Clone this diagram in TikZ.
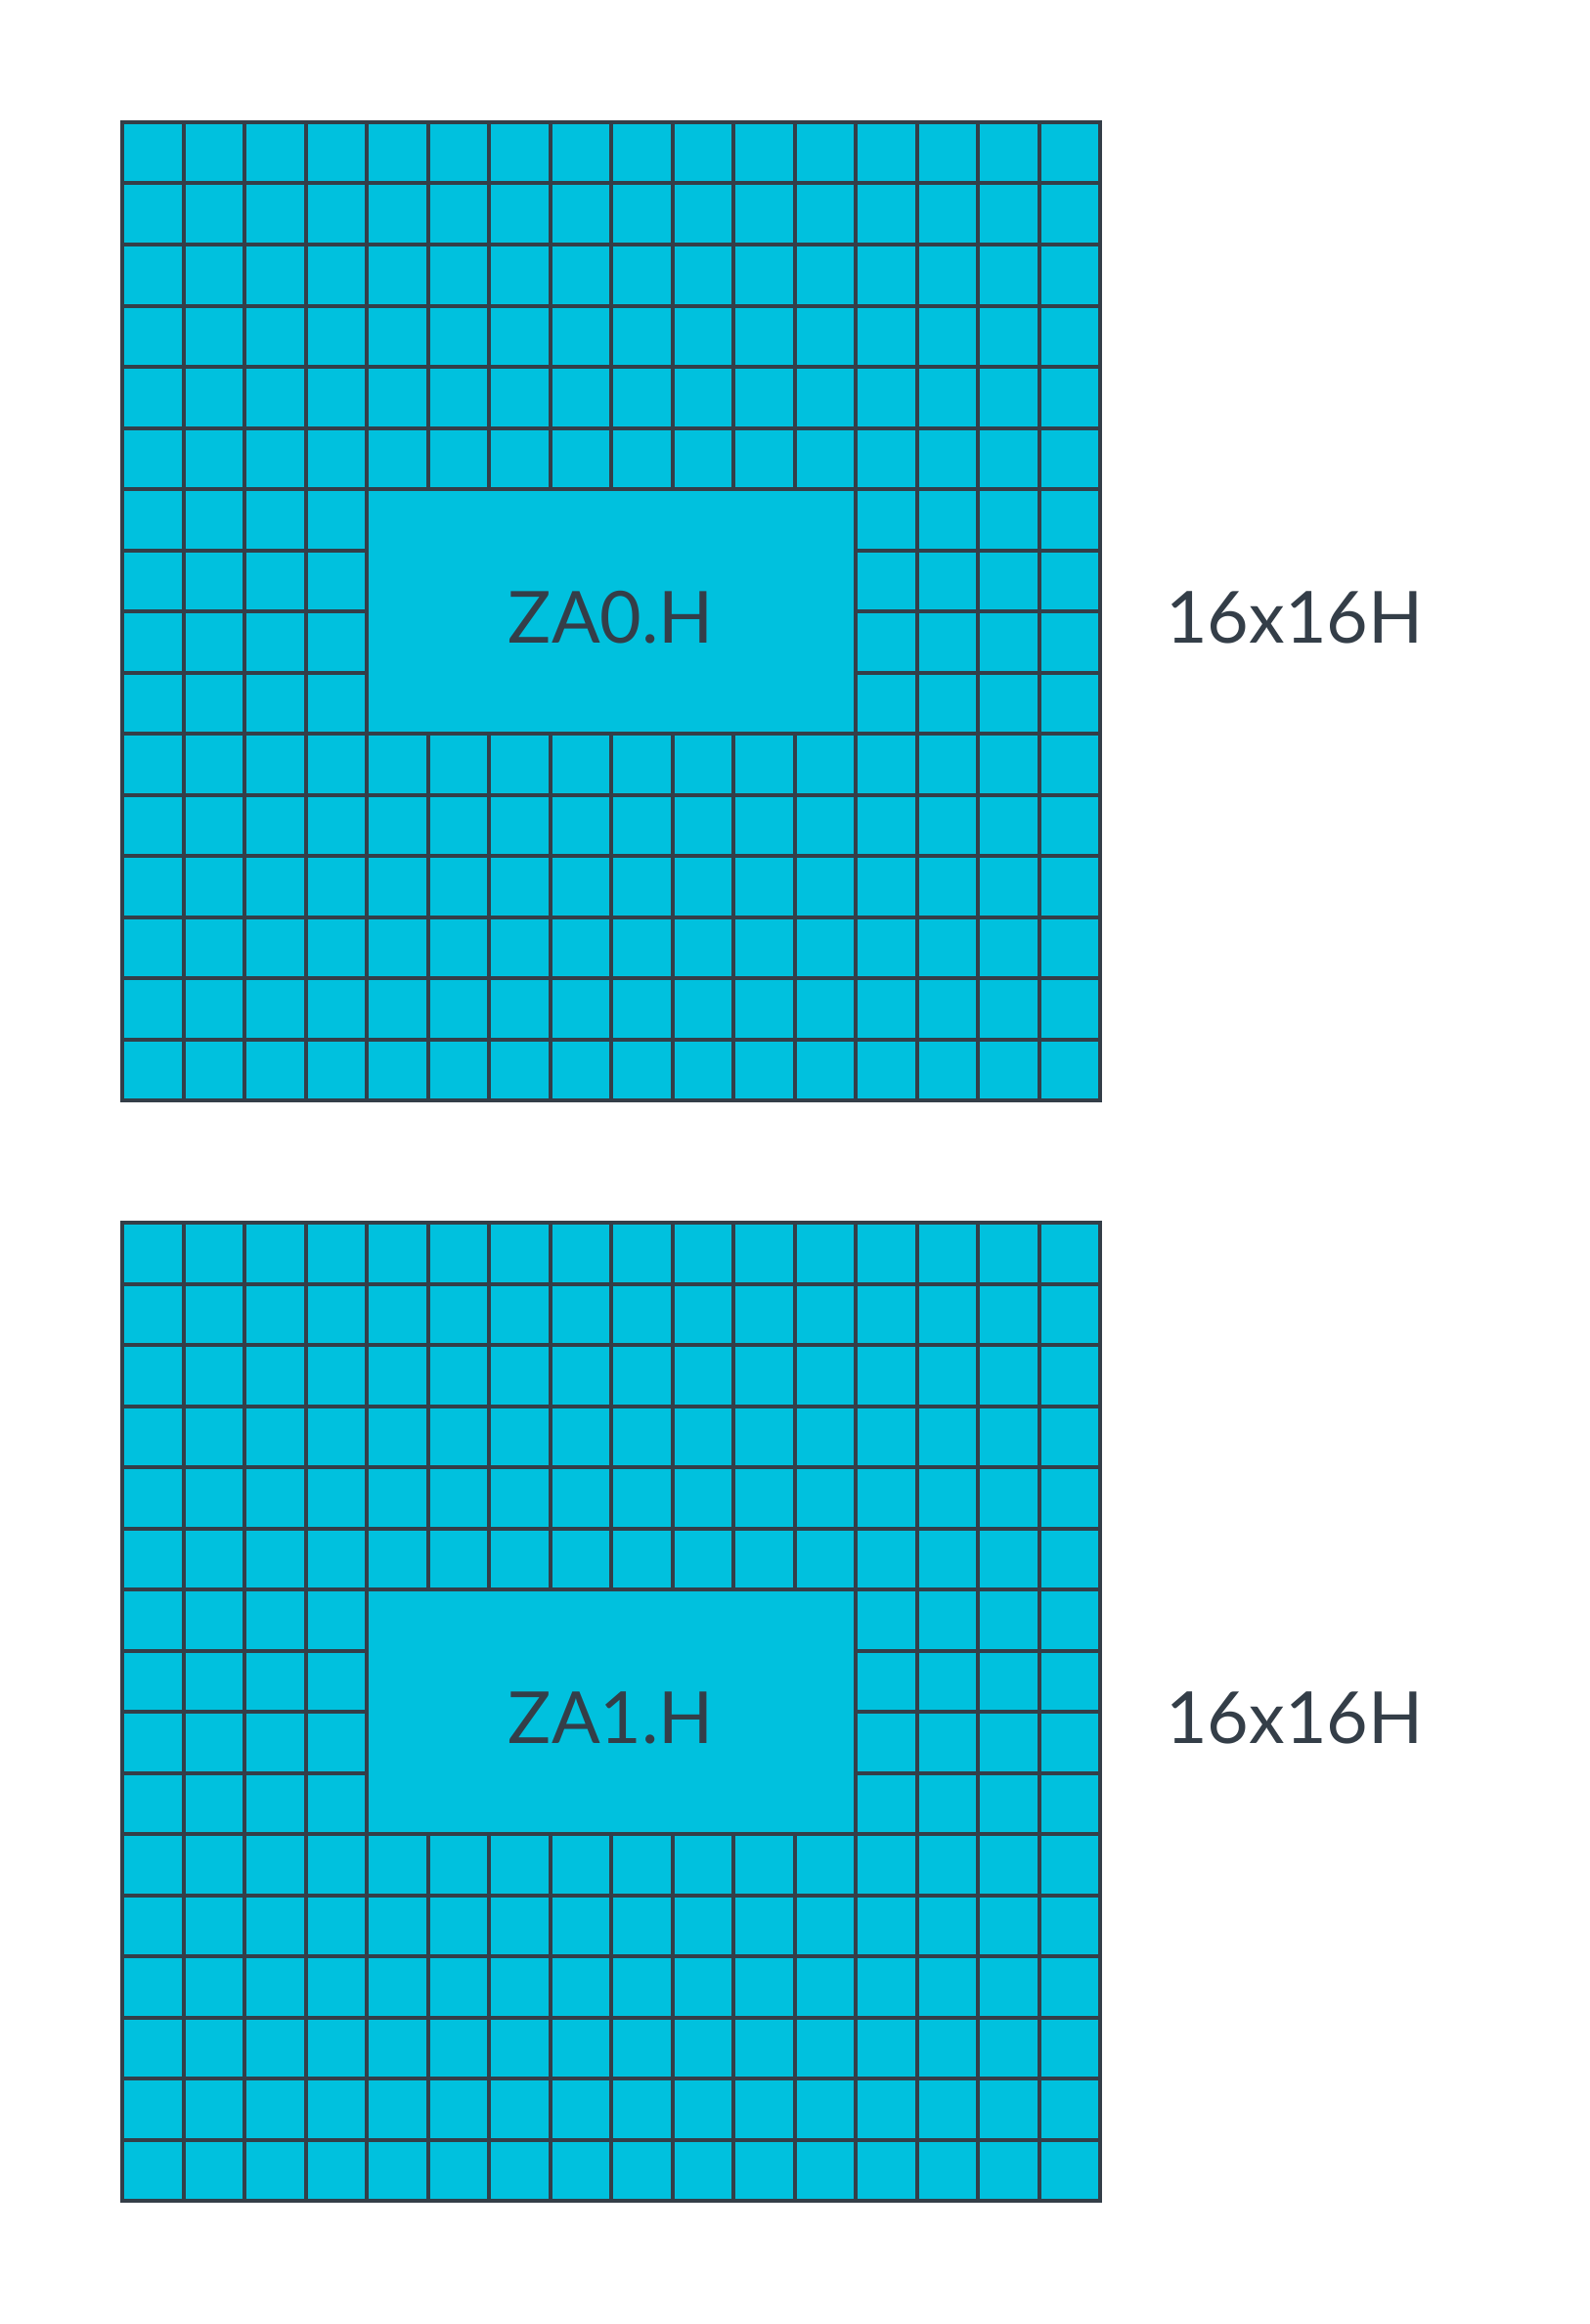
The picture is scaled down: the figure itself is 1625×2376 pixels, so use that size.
\documentclass[tikz,border=0pt]{standalone}
\usepackage{fontspec}
\setmainfont{Lato}
\definecolor{tilefill}{HTML}{00C1DE}
\definecolor{tileline}{HTML}{343E48}
\begin{document}
\begin{tikzpicture}[x=1pt,y=-1pt,
  gridline/.style={draw=tileline,line width=4pt,line cap=rect},
  lbl/.style={text=tileline,font=\fontsize{73.5}{88}\selectfont,inner sep=0pt,anchor=base}]
\useasboundingbox[fill=white] (0,0) rectangle (1625,2376);
\foreach \oy/\nm/\txt in {125/a/ZA0.H,1250/b/ZA1.H}{
  \fill[tilefill] (125,\oy) rectangle (1125,\oy+1000);
  % horizontal lines
  \foreach \i in {1,...,15}{
    \pgfmathsetmacro{\yy}{\oy+62.5*\i}
    \ifnum\i>6 \ifnum\i<10
      \draw[gridline] (125,\yy) -- (375,\yy);
      \draw[gridline] (875,\yy) -- (1125,\yy);
    \else
      \draw[gridline] (125,\yy) -- (1125,\yy);
    \fi
    \else
      \draw[gridline] (125,\yy) -- (1125,\yy);
    \fi
  }
  % vertical lines
  \foreach \j in {1,...,15}{
    \pgfmathsetmacro{\xx}{125+62.5*\j}
    \ifnum\j>4 \ifnum\j<12
      \draw[gridline] (\xx,\oy) -- (\xx,\oy+375);
      \draw[gridline] (\xx,\oy+625) -- (\xx,\oy+1000);
    \else
      \draw[gridline] (\xx,\oy) -- (\xx,\oy+1000);
    \fi
    \else
      \draw[gridline] (\xx,\oy) -- (\xx,\oy+1000);
    \fi
  }
  \fill[tilefill] (375,\oy+375) rectangle (875,\oy+625);
  \draw[gridline] (375,\oy+375) rectangle (875,\oy+625);
  \draw[gridline] (125,\oy) rectangle (1125,\oy+1000);
  \node[lbl] (blk\nm) at (625,\oy+532) {\txt};
  \node[lbl,anchor=base west] (size\nm) at (1192,\oy+532) {16x16H};
}
\end{tikzpicture}
\end{document}
